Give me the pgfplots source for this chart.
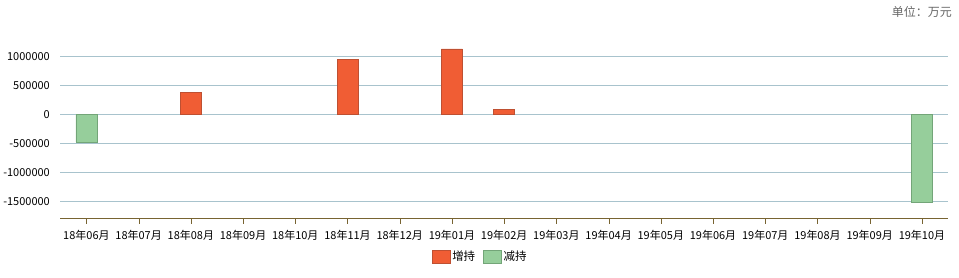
\documentclass[border=0pt]{standalone}
\usepackage{fontspec}
\setmainfont{Noto Sans CJK SC}
\usepackage{pgfplots}
\pgfplotsset{compat=1.18}
\definecolor{zengfill}{RGB}{240,93,52}
\definecolor{zengdraw}{RGB}{190,80,50}
\definecolor{jianfill}{RGB}{150,206,155}
\definecolor{jiandraw}{RGB}{115,165,120}
\definecolor{gridc}{RGB}{168,195,205}
\definecolor{axisc}{RGB}{120,100,50}
\begin{document}
\begin{tikzpicture}[x=1bp,y=1bp]
\path (0,0) rectangle (959,278);
\node[anchor=north east, text=black!60, font=\fontsize{12bp}{14bp}\selectfont, inner sep=0pt] at (952,272) {单位：万元};
\begin{axis}[
  at={(59bp,59bp)}, anchor=south west,
  scale only axis, width=889bp, height=179.4bp,
  xmin=-0.5, xmax=16.5, ymin=-1800000, ymax=1300000,
  axis x line*=bottom, axis y line*=left,
  x axis line style={draw=axisc, -},
  y axis line style={draw=none},
  scaled y ticks=false,
  ytick={-1500000,-1000000,-500000,0,500000,1000000},
  yticklabels={-1500000,-1000000,-500000,0,500000,1000000},
  ytick style={draw=none},
  ymajorgrids, grid style={gridc, line width=0.8bp},
  xtick={0,...,16},
  xticklabels={18年06月,18年07月,18年08月,18年09月,18年10月,18年11月,18年12月,19年01月,19年02月,19年03月,19年04月,19年05月,19年06月,19年07月,19年08月,19年09月,19年10月},
  xtick style={draw=axisc},
  tick align=outside, major tick length=5bp,
  ticklabel style={font=\fontsize{11bp}{13bp}\selectfont},
  xticklabel style={yshift=-3bp},
  yticklabel style={xshift=-2bp},
  ybar, bar width=21bp, bar shift=0pt,
  legend columns=2,
  legend style={at={(0.473,0)}, anchor=center, yshift=-38bp, draw=none, font=\fontsize{11.5bp}{13bp}\selectfont, /tikz/every even column/.append style={column sep=6bp}},
  legend image code/.code={\draw[#1] (0bp,-6.5bp) rectangle (18bp,6.5bp);},
]
\addplot[fill=zengfill, draw=zengdraw] coordinates {(2,390000) (5,960000) (7,1138000) (8,86000)};
\addplot[fill=jianfill, draw=jiandraw] coordinates {(0,-477000) (16,-1517000)};
\legend{增持,减持}
\end{axis}
\end{tikzpicture}
\end{document}
